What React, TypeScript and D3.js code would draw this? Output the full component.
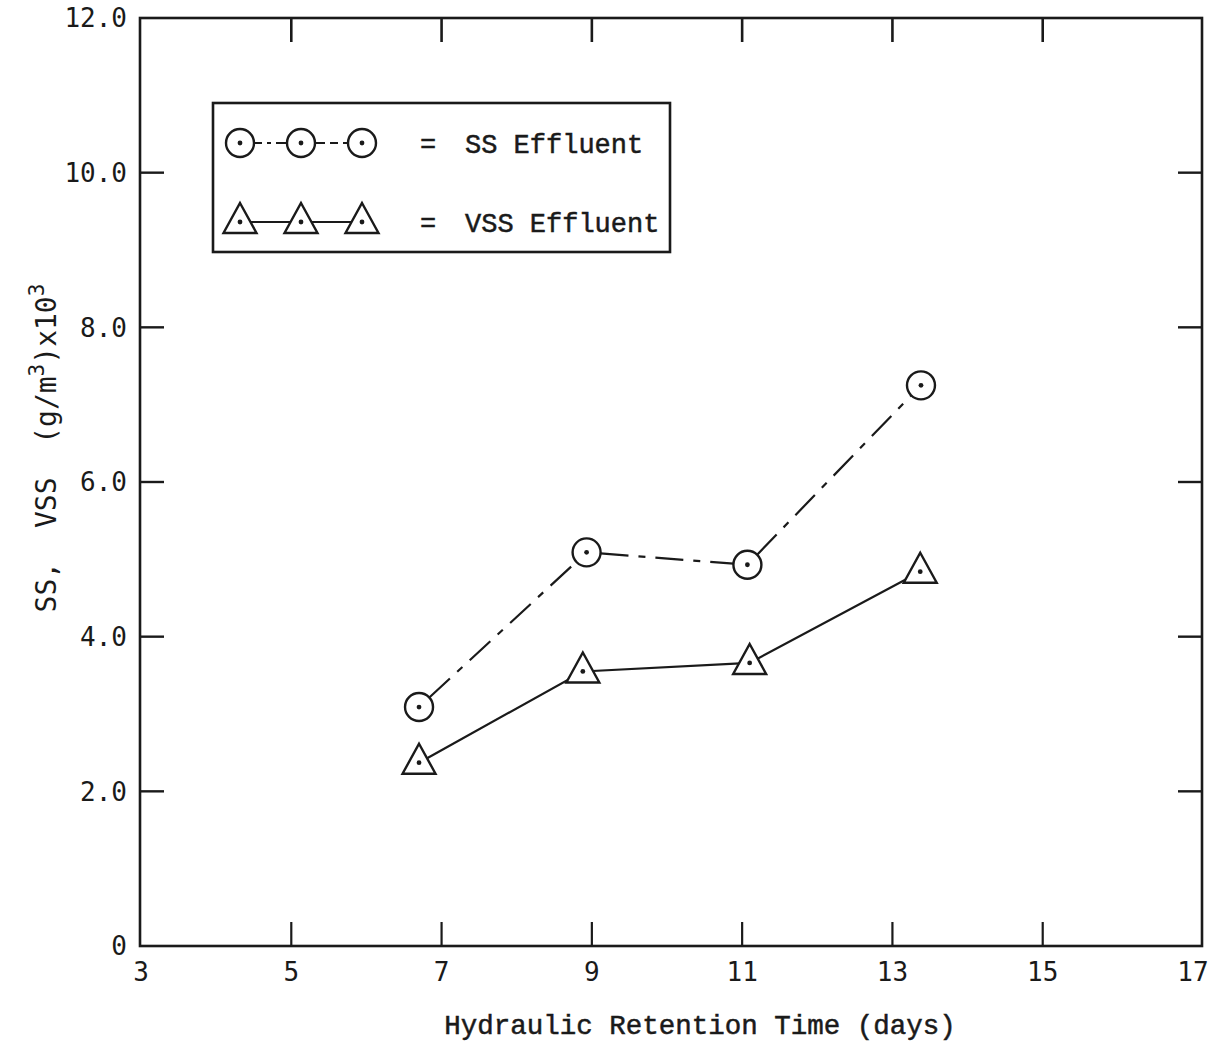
import React from 'react';
import * as d3 from 'd3';

// ---- data ----
const ssHrt = [6.7, 8.93, 11.07, 13.38];
const ssEffluent = [3.09, 5.09, 4.93, 7.25];
const vssHrt = [6.7, 8.88, 11.1, 13.37];
const vssEffluent = [2.37, 3.55, 3.66, 4.84];
const xTicks = [3, 5, 7, 9, 11, 13, 15, 17];
const yTicks = [0, 2, 4, 6, 8, 10, 12];
const yTickLabels = ['0', '2.0', '4.0', '6.0', '8.0', '10.0', '12.0'];
const legendLabels = ['SS Effluent', 'VSS Effluent'];
const xTitle = 'Hydraulic Retention Time (days)';

const W = 1224;
const H = 1044;
const INK = '#1a1a1a';
const TICKFONT = '"DejaVu Sans Mono", monospace';
const TYPEFONT = '"Liberation Mono", "DejaVu Sans Mono", monospace';

const x = d3.scaleLinear().domain([3, 17]).range([141, 1193]);
const y = d3.scaleLinear().domain([0, 12]).range([946, 18]);

const frame = { left: 140, top: 18, right: 1202, bottom: 946 };
const TL = 24;
const R = 14;
const DASH = '28 10 7 10';

function trimmed(x1: number, y1: number, x2: number, y2: number, r1: number, r2: number) {
  const dx = x2 - x1, dy = y2 - y1;
  const L = Math.hypot(dx, dy);
  const ux = dx / L, uy = dy / L;
  return { x1: x1 + ux * r1, y1: y1 + uy * r1, x2: x2 - ux * r2, y2: y2 - uy * r2 };
}

function Circle({ cx, cy }: { cx: number; cy: number }) {
  return (
    <g>
      <circle cx={cx} cy={cy} r={R} fill="#fff" stroke={INK} strokeWidth={2.4} />
      <circle cx={cx} cy={cy} r={2.4} fill={INK} />
    </g>
  );
}

function Tri({ cx, cy }: { cx: number; cy: number }) {
  const p = d3.path();
  p.moveTo(cx, cy - 19);
  p.lineTo(cx + 16.5, cy + 11);
  p.lineTo(cx - 16.5, cy + 11);
  p.closePath();
  return (
    <g>
      <path d={p.toString()} fill="#fff" stroke={INK} strokeWidth={2.4} strokeLinejoin="miter" />
      <circle cx={cx} cy={cy} r={2.4} fill={INK} />
    </g>
  );
}

export default function App() {
  const ssPts = ssHrt.map((d, i) => [x(d), y(ssEffluent[i])]);
  const vssPts = vssHrt.map((d, i) => [x(d), y(vssEffluent[i])]);
  const vssLine = d3.line()(vssPts as [number, number][]) || '';

  const innerTicks = xTicks.slice(1, -1);
  const innerY = yTicks.slice(1, -1);

  // legend layout
  const lg = { x: 213, y: 103, w: 457, h: 149 };
  const lgX = [240, 301, 362];
  const lgY1 = 143;
  const lgY2 = 222;

  return (
    <svg width={W} height={H} style={{ position: 'absolute', left: 0, top: 0, background: '#fff' }}>
      <rect x={0} y={0} width={W} height={H} fill="#fff" />
      {/* frame */}
      <rect x={frame.left} y={frame.top} width={frame.right - frame.left} height={frame.bottom - frame.top}
        fill="none" stroke={INK} strokeWidth={2.6} />
      {/* x ticks top/bottom */}
      {innerTicks.map((t) => (
        <g key={'xt' + t}>
          <line x1={x(t)} x2={x(t)} y1={frame.top} y2={frame.top + TL} stroke={INK} strokeWidth={2.6} />
          <line x1={x(t)} x2={x(t)} y1={frame.bottom} y2={frame.bottom - TL} stroke={INK} strokeWidth={2.2} />
        </g>
      ))}
      {/* y ticks left/right */}
      {innerY.map((t) => (
        <g key={'yt' + t}>
          <line x1={frame.left} x2={frame.left + TL} y1={y(t)} y2={y(t)} stroke={INK} strokeWidth={2.4} />
          <line x1={frame.right} x2={frame.right - TL} y1={y(t)} y2={y(t)} stroke={INK} strokeWidth={2.4} />
        </g>
      ))}
      {/* x tick labels */}
      {xTicks.map((t) => (
        <text key={'xl' + t} x={x(t)} y={981} textAnchor="middle" fontFamily={TICKFONT} fontSize={26} fill={INK}>
          {t}
        </text>
      ))}
      {/* y tick labels */}
      {yTicks.map((t, i) => (
        <text key={'yl' + t} x={127} y={y(t)} dy="0.36em" textAnchor="end" fontFamily={TICKFONT} fontSize={26} fill={INK}>
          {yTickLabels[i]}
        </text>
      ))}
      {/* axis titles */}
      <text x={700} y={1034} textAnchor="middle" fontFamily={TYPEFONT} fontSize={27.5} fill={INK} stroke={INK} strokeWidth={0.5}>
        {xTitle}
      </text>
      <g transform="translate(56,448) rotate(-90)">
        <text x={0} y={0} textAnchor="middle" fontFamily={TICKFONT} fontSize={28} fill={INK} xmlSpace="preserve" style={{ whiteSpace: 'pre' }}>
          {'SS,  VSS  (g/m'}<tspan dy={-12} fontSize={21}>3</tspan><tspan dy={12}>)x10</tspan><tspan dy={-12} fontSize={21}>3</tspan>
        </text>
      </g>

      {/* SS line: dash-dot segments between circle edges */}
      {ssPts.slice(1).map((p, i) => {
        const s = trimmed(ssPts[i][0], ssPts[i][1], p[0], p[1], R, R);
        return <line key={'ss' + i} {...s} stroke={INK} strokeWidth={2.2} strokeDasharray={DASH} />;
      })}
      {/* VSS line solid */}
      <path d={vssLine} fill="none" stroke={INK} strokeWidth={2.2} />
      {ssPts.map((p, i) => <Circle key={'c' + i} cx={p[0]} cy={p[1]} />)}
      {vssPts.map((p, i) => <Tri key={'t' + i} cx={p[0]} cy={p[1]} />)}

      {/* legend */}
      <rect x={lg.x} y={lg.y} width={lg.w} height={lg.h} fill="#fff" stroke={INK} strokeWidth={2.6} />
      {lgX.slice(1).map((lx, i) => {
        const s = trimmed(lgX[i], lgY1, lx, lgY1, R, R);
        return <line key={'lss' + i} {...s} stroke={INK} strokeWidth={2} strokeDasharray={i === 0 ? '8 5 4 5 12' : '10 5 8 5 12'} />;
      })}
      <line x1={lgX[0]} x2={lgX[2]} y1={lgY2} y2={lgY2} stroke={INK} strokeWidth={2} />
      {lgX.map((lx, i) => <Circle key={'lc' + i} cx={lx} cy={lgY1} />)}
      {lgX.map((lx, i) => <Tri key={'lt' + i} cx={lx} cy={lgY2} />)}
      {[lgY1, lgY2].map((ly, i) => (
        <g key={'lt' + i}>
          <text x={428} y={ly + 10} textAnchor="middle" fontFamily={TYPEFONT} fontSize={27} fill={INK} stroke={INK} strokeWidth={0.5}>=</text>
          <text x={465} y={ly + 10} fontFamily={TYPEFONT} fontSize={27} fill={INK} stroke={INK} strokeWidth={0.5}>{legendLabels[i]}</text>
        </g>
      ))}
    </svg>
  );
}
